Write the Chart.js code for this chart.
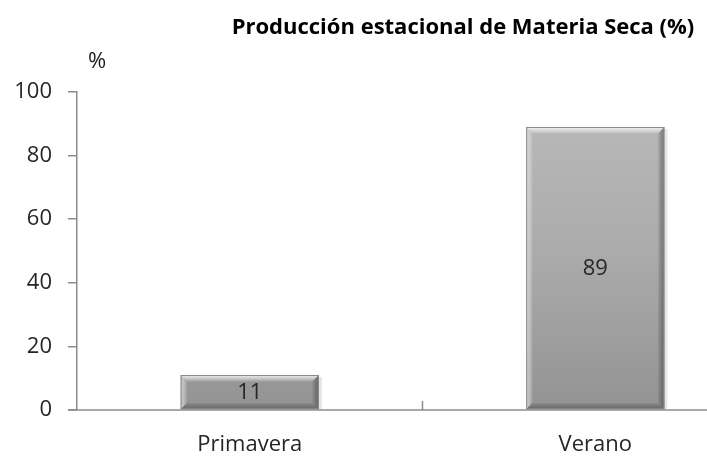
<!DOCTYPE html>
<html>
<head>
<meta charset="utf-8">
<script src="https://cdn.jsdelivr.net/npm/chart.js@4.4.1/dist/chart.umd.min.js"></script>
<style>
  html, body { margin: 0; padding: 0; background: #fff; overflow: hidden; }
  #wrap { width: 707px; height: 457px; overflow: hidden; }
</style>
</head>
<body>
<div id="wrap"><canvas id="grafica" width="926" height="457"></canvas></div>
<script>
//-----------------//
//--|datos|--------//
//-----------------//
const categorias = ["Primavera", "Verano"];
const valores = [11, 89];
const ticksY = [0, 20, 40, 60, 80, 100];
const titulo = "Producción estacional de Materia Seca (%)";
const unidad = "%";

const FUENTE = "'Open Sans', 'DejaVu Sans', sans-serif";

//------------------------------//
//--|relleno_degradado_barras|--//
//------------------------------//
function rellenoBarra(context) {
    const chart = context.chart;
    const area = chart.chartArea;
    if (!area) return "#a8a8a8";
    const g = chart.ctx.createLinearGradient(0, area.top, 0, area.bottom);
    g.addColorStop(0, "#bababa");
    g.addColorStop(0.5, "#ababab");
    g.addColorStop(1, "#939393");
    return g;
}

//-------------------------------//
//--|bisel_y_etiquetas_barras|--//
//-------------------------------//
const biselPlugin = {
    id: "bisel",
    afterDatasetsDraw(chart) {
        const ctx = chart.ctx;
        const meta = chart.getDatasetMeta(0);
        meta.data.forEach((bar, i) => {
            const x0 = bar.x - bar.width / 2;
            const x1 = bar.x + bar.width / 2;
            const y0 = bar.y;
            const y1 = bar.base;
            const b = Math.min(7, (y1 - y0) / 3);
            ctx.save();
            // sombra a la derecha
            ctx.fillStyle = "rgba(0,0,0,0.10)";
            ctx.fillRect(x1, y0 + 2, 3, y1 - y0 - 2);
            // bisel superior
            let g = ctx.createLinearGradient(0, y0, 0, y0 + b);
            g.addColorStop(0, "#f2f2f2");
            g.addColorStop(1, "rgba(255,255,255,0)");
            ctx.fillStyle = g;
            ctx.beginPath();
            ctx.moveTo(x0, y0); ctx.lineTo(x1, y0);
            ctx.lineTo(x1 - b, y0 + b); ctx.lineTo(x0 + b, y0 + b);
            ctx.closePath(); ctx.fill();
            // bisel izquierdo
            g = ctx.createLinearGradient(x0, 0, x0 + b, 0);
            g.addColorStop(0, "rgba(220,220,220,0.8)");
            g.addColorStop(1, "rgba(255,255,255,0)");
            ctx.fillStyle = g;
            ctx.beginPath();
            ctx.moveTo(x0, y0); ctx.lineTo(x0 + b, y0 + b);
            ctx.lineTo(x0 + b, y1 - b); ctx.lineTo(x0, y1);
            ctx.closePath(); ctx.fill();
            // bisel derecho
            g = ctx.createLinearGradient(x1 - b, 0, x1, 0);
            g.addColorStop(0, "rgba(0,0,0,0)");
            g.addColorStop(1, "rgba(60,60,60,0.5)");
            ctx.fillStyle = g;
            ctx.beginPath();
            ctx.moveTo(x1, y0); ctx.lineTo(x1 - b, y0 + b);
            ctx.lineTo(x1 - b, y1 - b); ctx.lineTo(x1, y1);
            ctx.closePath(); ctx.fill();
            // bisel inferior
            g = ctx.createLinearGradient(0, y1 - b, 0, y1);
            g.addColorStop(0, "rgba(0,0,0,0)");
            g.addColorStop(1, "rgba(60,60,60,0.45)");
            ctx.fillStyle = g;
            ctx.beginPath();
            ctx.moveTo(x0, y1); ctx.lineTo(x0 + b, y1 - b);
            ctx.lineTo(x1 - b, y1 - b); ctx.lineTo(x1, y1);
            ctx.closePath(); ctx.fill();
            // borde
            ctx.strokeStyle = "#8a8a8a";
            ctx.lineWidth = 1;
            ctx.strokeRect(x0 + 0.5, y0 + 0.5, bar.width - 1, y1 - y0 - 1);
            // etiqueta del valor
            ctx.fillStyle = "#262626";
            ctx.font = "22px " + FUENTE;
            ctx.textAlign = "center";
            ctx.textBaseline = "middle";
            ctx.fillText(String(valores[i]), bar.x, (y0 + y1) / 2 + 1);
            ctx.restore();
        });
    }
};

//----------------------------------------//
//--|titulo_ejes_marcas_y_unidad_de_y|--//
//----------------------------------------//
const ejesPlugin = {
    id: "ejes",
    afterDraw(chart) {
        const ctx = chart.ctx;
        const area = chart.chartArea;
        const x = chart.scales.x;
        const y = chart.scales.y;
        ctx.save();
        // titulo
        ctx.fillStyle = "#000";
        ctx.font = "bold 22px " + FUENTE;
        ctx.textAlign = "center";
        ctx.textBaseline = "middle";
        ctx.fillText(titulo, 463, 28);
        ctx.strokeStyle = "#8c8c8c";
        ctx.lineWidth = 1.5;
        // linea del eje x, que se prolonga a la izquierda
        ctx.beginPath();
        ctx.moveTo(area.left - 9, y.getPixelForValue(0));
        ctx.lineTo(chart.width, y.getPixelForValue(0));
        ctx.stroke();
        // marcas hacia arriba entre categorias
        for (let i = 0; i < categorias.length - 1; i++) {
            const px = (x.getPixelForValue(i) + x.getPixelForValue(i + 1)) / 2;
            ctx.beginPath();
            ctx.moveTo(px, y.getPixelForValue(0));
            ctx.lineTo(px, y.getPixelForValue(0) - 9);
            ctx.stroke();
        }
        // unidad del eje y
        ctx.fillStyle = "#1a1a1a";
        ctx.font = "22px " + FUENTE;
        ctx.fillText(unidad, area.left + 20, area.top - 30);
        ctx.restore();
    }
};

document.addEventListener("DOMContentLoaded", () => {
    const canvas = document.getElementById("grafica");
    const ctx = canvas.getContext("2d");
    new Chart(ctx, {
        type: "bar",
        data: {
            labels: categorias,
            datasets: [{
                data: valores,
                backgroundColor: rellenoBarra,
                borderWidth: 0,
                categoryPercentage: 1,
                barPercentage: 0.4
            }]
        },
        options: {
            responsive: false,
            animation: false,
            layout: { padding: { left: 0, right: 158, top: 92, bottom: 0 } },
            plugins: {
                legend: { display: false },
                tooltip: { enabled: false },
                title: { display: false }
            },
            scales: {
                x: {
                    grid: { display: false },
                    border: { display: false },
                    ticks: {
                        color: "#262626",
                        font: { family: FUENTE, size: 22 },
                        padding: 14
                    },
                    afterFit(scale) { scale.height = 47; }
                },
                y: {
                    min: 0,
                    max: 100,
                    afterBuildTicks(scale) {
                        scale.ticks = ticksY.map(v => ({ value: v }));
                    },
                    grid: {
                        drawOnChartArea: false,
                        drawTicks: true,
                        tickLength: 9,
                        color: "#8c8c8c",
                        lineWidth: 1.5
                    },
                    border: { display: true, color: "#8c8c8c", width: 1.5 },
                    ticks: {
                        color: "#262626",
                        font: { family: FUENTE, size: 22 },
                        padding: 16
                    },
                    afterFit(scale) { scale.width = 77; }
                }
            }
        }
        ,
        plugins: [biselPlugin, ejesPlugin]
    });
});
</script>
</body>
</html>
